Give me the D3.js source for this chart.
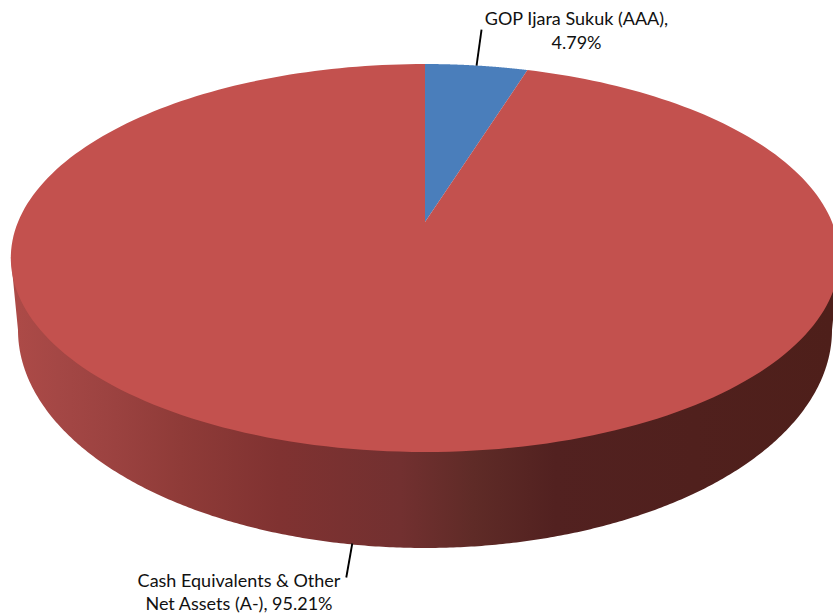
<!DOCTYPE html>
<html>
<head>
<meta charset="utf-8">
<script src="https://cdn.jsdelivr.net/npm/d3@7"></script>
<style>
  html, body { margin: 0; padding: 0; background: #fff; }
  svg { display: block; }
  text { font-family: Lato, "Open Sans", sans-serif; fill: #111; }
</style>
</head>
<body>
<svg id="chart" width="833" height="615"></svg>
<script>
// Portfolio allocation shares, in percent, clockwise from twelve o'clock
const categories = ["GOP Ijara Sukuk (AAA),", "Cash Equivalents & Other"];
const secondLines = ["4.79%", "Net Assets (A-), 95.21%"];
const shares = [4.79, 95.21];
const topColors = ["#4a7ebb", "#c3514e"];

// Side wall shading, left to right
const wallStops = [
  [0, "#ac4a47"], [0.05, "#a44745"], [0.12, "#9b4240"], [0.2, "#8f3b38"],
  [0.32, "#803231"], [0.47, "#723030"], [0.56, "#5f2b27"], [0.66, "#522120"], [1, "#4e1f1a"]
];

const svg = d3.select("#chart");

// Tilted disc seen in perspective: a unit circle mapped through a projective transform
const disc = { cx: 425, apexY: 222, a: 407, b: 187.3, k: 0.1856 };
const project = angle => {
  const u = Math.sin(angle), v = Math.cos(angle);
  const w = 1 + disc.k * v;
  return [disc.cx + disc.a * u / w, disc.apexY - disc.b * v / w];
};

// Lower edge of the cylinder wall
const base = { cy: 330, rx: 407, ry: 218 };
const baseY = x => base.cy + base.ry * Math.sqrt(Math.max(0, 1 - ((x - disc.cx) / base.rx) ** 2));

const pie = d3.pie().sort(null).value(d => d)(shares);
const line = d3.line();
const rim = (start, end) =>
  d3.range(0, 241).map(i => project(start + (end - start) * i / 240));

const grad = svg.append("defs").append("linearGradient")
  .attr("id", "wall").attr("gradientUnits", "userSpaceOnUse")
  .attr("x1", disc.cx - base.rx).attr("x2", disc.cx + base.rx).attr("y1", 0).attr("y2", 0);
grad.selectAll("stop").data(wallStops).join("stop")
  .attr("offset", d => d[0]).attr("stop-color", d => d[1]);

// Side wall: the base curve joined up to the widest points of the top face
const fullRim = rim(0, Math.PI * 2);
const leftmost = d3.least(fullRim, p => p[0]);
const rightmost = d3.greatest(fullRim, p => p[0]);
const basePts = d3.range(0, 361).map(i => {
  const t = Math.PI * (0.5 + i / 360);
  const x = disc.cx + base.rx * Math.sin(t);
  return [x, base.cy - base.ry * Math.cos(t)];
});
svg.append("path")
  .attr("d", line([rightmost, ...basePts, leftmost]) + "Z")
  .attr("fill", "url(#wall)");

// Top face of the disc, one wedge per share
svg.selectAll("path.slice").data(pie).join("path")
  .attr("class", "slice")
  .attr("fill", (d, i) => topColors[i])
  .attr("d", d => line([[disc.cx, disc.apexY], ...rim(d.startAngle, d.endAngle)]) + "Z");

// Leader lines start at each wedge's middle angle, on the edge facing the viewer
const midAngle = d => (d.startAngle + d.endAngle) / 2;
const leaderStarts = pie.map(d => {
  const p = project(midAngle(d));
  return Math.cos(midAngle(d)) > 0 ? p : [p[0] + 2, baseY(p[0] + 2) - 1];
});
const leaderOffsets = [[5, -36], [-6, 34]];
svg.selectAll("line.leader").data(leaderStarts).join("line")
  .attr("class", "leader")
  .attr("x1", d => d[0]).attr("y1", d => d[1])
  .attr("x2", (d, i) => d[0] + leaderOffsets[i][0])
  .attr("y2", (d, i) => d[1] + leaderOffsets[i][1])
  .attr("stroke", "#000").attr("stroke-width", 1.9);

// Two-line data labels
const labelAnchors = [[576.5, 25, 49], [239, 587, 610]];
labelAnchors.forEach(([x, y1, y2], i) => {
  svg.append("text").attr("x", x).attr("y", y1).attr("text-anchor", "middle")
    .attr("font-size", 18).text(categories[i]);
  svg.append("text").attr("x", x).attr("y", y2).attr("text-anchor", "middle")
    .attr("font-size", 18).text(secondLines[i]);
});
</script>
</body>
</html>
